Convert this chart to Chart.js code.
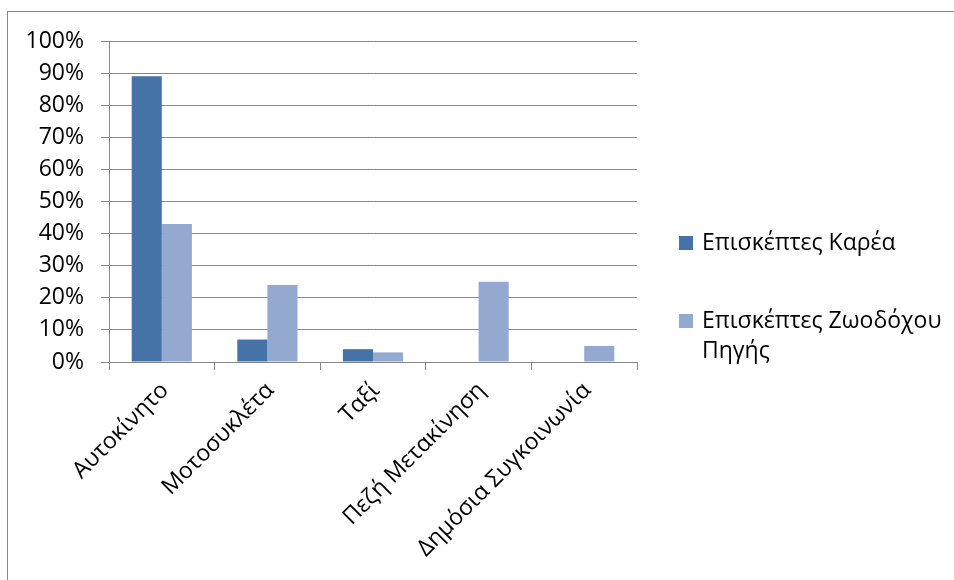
<!DOCTYPE html>
<html lang="el">
<head>
<meta charset="utf-8">
<script src="https://cdn.jsdelivr.net/npm/chart.js@4/dist/chart.umd.min.js"></script>
<style>
    html, body { margin: 0; padding: 0; background: #fff; }
    #wrap { position: relative; width: 954px; height: 580px; overflow: hidden; }
    #frame { position: absolute; left: 7px; top: 11px; width: 1000px; height: 600px; border: 1px solid #878787; box-sizing: border-box; }
    #chart { position: absolute; left: 0; top: 0; }
    #legend { position: absolute; left: 679px; top: 226px; font-family: "Open Sans", sans-serif; font-size: 23px; color: #000; }
    .lg-item { display: flex; align-items: flex-start; margin-bottom: 48px; }
    .lg-box { width: 14px; height: 14px; margin-top: 10px; margin-right: 9px; flex: none; }
    .lg-text { width: 260px; line-height: 30px; }
</style>
</head>
<body>
<div id="wrap">
    <div id="frame"></div>
    <canvas id="chart" width="954" height="580"></canvas>
    <div id="legend"></div>
</div>
<script>
const categories = ['Αυτοκίνητο', 'Μοτοσυκλέτα', 'Ταξί', 'Πεζή Μετακίνηση', 'Δημόσια Συγκοινωνία'];
const seriesNames = ['Επισκέπτες Καρέα', 'Επισκέπτες Ζωοδόχου Πηγής'];
const kareaValues = [89, 7, 4, 0, 0];
const zoodochouValues = [43, 24, 3, 25, 5];
const seriesColors = ['#4572a7', '#94a9d0'];
const yTicks = [0, 10, 20, 30, 40, 50, 60, 70, 80, 90, 100];

const axisGrey = '#878787';
const font = { family: '"Open Sans", sans-serif', size: 23 };

const chart = new Chart(document.getElementById('chart'), {
    type: 'bar',
    data: {
        labels: categories,
        datasets: [
            { label: seriesNames[0], data: kareaValues, backgroundColor: seriesColors[0] },
            { label: seriesNames[1], data: zoodochouValues, backgroundColor: seriesColors[1] }
        ]
    },
    options: {
        responsive: false,
        animation: false,
        events: [],
        categoryPercentage: 0.57,
        barPercentage: 1,
        layout: { padding: { left: 0, top: 41, right: 317, bottom: 0 } },
        plugins: { legend: { display: false }, tooltip: { enabled: false } },
        scales: {
            x: {
                grid: { offset: true, drawOnChartArea: false, color: axisGrey, tickLength: 8 },
                border: { color: axisGrey },
                ticks: { color: '#000', font: font, minRotation: 45, maxRotation: 45, padding: 7, labelOffset: 3, autoSkip: false },
                afterFit: (scale) => {
                    scale.height = 218;
                    scale.paddingLeft = 0;
                    scale.paddingRight = 0;
                }
            },
            y: {
                min: 0,
                max: 100,
                afterBuildTicks: (scale) => { scale.ticks = yTicks.map(v => ({ value: v })); },
                grid: { color: axisGrey, tickLength: 8 },
                border: { color: axisGrey },
                ticks: { color: '#000', font: font, padding: 17, callback: (v) => v + '%' },
                afterFit: (scale) => {
                    scale.width = 109;
                    scale.paddingTop = 0;
                    scale.paddingBottom = 0;
                }
            }
        }
    }
});

// legend beside the plot, with wrapping labels
const legend = document.getElementById('legend');
chart.data.datasets.forEach(ds => {
    const item = document.createElement('div');
    item.className = 'lg-item';
    const box = document.createElement('span');
    box.className = 'lg-box';
    box.style.background = ds.backgroundColor;
    const text = document.createElement('span');
    text.className = 'lg-text';
    text.textContent = ds.label;
    item.appendChild(box);
    item.appendChild(text);
    legend.appendChild(item);
});
</script>
</body>
</html>
